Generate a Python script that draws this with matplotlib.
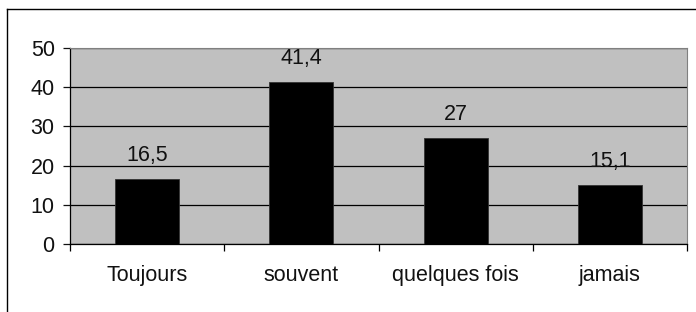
import matplotlib.pyplot as plt
from matplotlib.lines import Line2D
from matplotlib.ticker import MultipleLocator, FixedLocator

plt.rcParams['font.family'] = ['Liberation Sans', 'DejaVu Sans']

categories = ['Toujours', 'souvent', 'quelques fois', 'jamais']
values = [16.5, 41.4, 27, 15.1]
labels = ['16,5', '41,4', '27', '15,1']

W, H = 696, 312
fig = plt.figure(figsize=(W / 100, H / 100), dpi=100)
ax = fig.add_axes([70 / W, 1 - 244 / H, (687 - 70) / W, (244 - 48) / H])
ax.set_facecolor('#c0c0c0')

x = list(range(len(categories)))
ax.bar(x, values, width=0.415, color='black', edgecolor='#333333', linewidth=0.6, zorder=3)

for xi, v, lab in zip(x, values, labels):
    ax.annotate(lab, (xi, v), xytext=(0, 13), textcoords='offset points',
                ha='center', va='baseline', fontsize=15.5, color='#111111')

ax.set_xlim(-0.5, len(categories) - 0.5)
ax.set_ylim(0, 50)
ax.yaxis.set_major_locator(MultipleLocator(10))
ax.grid(axis='y', color='black', linewidth=0.9, zorder=1)
ax.set_axisbelow(True)

ax.set_xticks(x)
ax.set_xticklabels(categories)
ax.xaxis.set_minor_locator(FixedLocator([i - 0.5 for i in range(len(categories) + 1)]))
ax.tick_params(axis='x', which='major', length=0, pad=15, labelsize=15.5, colors='#111111')
ax.tick_params(axis='x', which='minor', length=5, width=0.9, direction='out', color='black')
ax.tick_params(axis='y', length=5, width=0.9, direction='out', pad=6, labelsize=15.5, colors='#111111')

ax.spines['left'].set_color('black')
ax.spines['bottom'].set_color('black')
ax.spines['left'].set_linewidth(0.9)
ax.spines['bottom'].set_linewidth(0.9)
ax.spines['top'].set_color('#808080')
ax.spines['right'].set_color('#808080')

# outer chart border (left and top visible)
fig.add_artist(Line2D([6.5 / W, 6.5 / W], [0, 1 - 8.5 / H], color='black', linewidth=1.0, transform=fig.transFigure))
fig.add_artist(Line2D([6.5 / W, 1], [1 - 8.5 / H, 1 - 8.5 / H], color='black', linewidth=1.0, transform=fig.transFigure))

fig.savefig('out.png', dpi=100)
